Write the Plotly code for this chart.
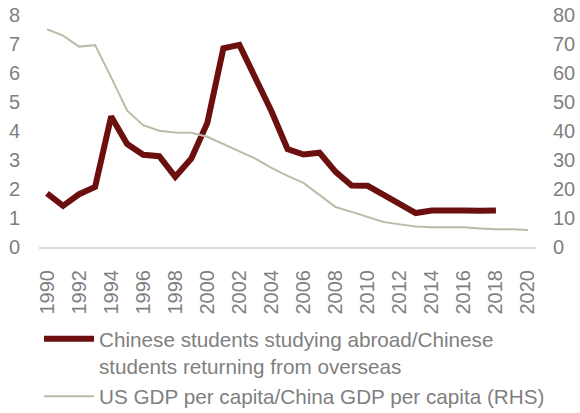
import plotly.graph_objects as go

years = list(range(1990, 2021))
years_students = list(range(1990, 2019))

# Chinese students studying abroad / returning from overseas (LHS)
students_ratio = [1.85, 1.42, 1.82, 2.07, 4.50, 3.55, 3.18, 3.13, 2.42, 3.05,
                  4.28, 6.85, 6.97, 5.82, 4.68, 3.38, 3.19, 3.25, 2.59, 2.12,
                  2.11, 1.80, 1.46, 1.17, 1.26, 1.28, 1.26, 1.25, 1.26]

# US GDP per capita / China GDP per capita (RHS)
gdp_ratio = [75.1, 72.9, 69.1, 69.6, 58.5, 47.0, 42.0, 40.1, 39.5, 39.4,
             38.0, 35.5, 33.2, 30.5, 27.3, 24.5, 22.1, 17.9, 13.8, 12.1,
             10.4, 8.6, 7.8, 7.1, 6.8, 6.7, 6.8, 6.4, 6.1, 6.1, 5.9]

x_ticks = list(range(1990, 2021, 2))
left_ticks = list(range(0, 9))
right_ticks = list(range(0, 81, 10))

FONT = "Liberation Sans, Arial, sans-serif"
TEXT_GREY = "#7f7f7f"
RED = "#6b0f0f"
GREY_LINE = "#bdbaa7"
TICK_SIZE = 20
LEGEND_SIZE = 20.7

fig = go.Figure()

fig.add_trace(go.Scatter(
    x=years_students, y=students_ratio, mode="lines",
    name="Chinese students studying abroad/Chinese<br>students returning from overseas",
    line=dict(color=RED, width=6, shape="linear"),
    yaxis="y", legend="legend", showlegend=True,
))
fig.add_trace(go.Scatter(
    x=years, y=gdp_ratio, mode="lines",
    name="US GDP per capita/China GDP per capita (RHS)",
    line=dict(color=GREY_LINE, width=2),
    yaxis="y2", legend="legend2", showlegend=True,
))

fig.update_layout(
    width=580, height=413,
    margin=dict(l=39, r=44, t=15, b=166, autoexpand=False),
    showlegend=True,
    paper_bgcolor="white", plot_bgcolor="white",
    font=dict(family=FONT, color=TEXT_GREY, size=TICK_SIZE),
    xaxis=dict(
        range=[1989.5, 2020.5], tickvals=x_ticks, ticktext=[str(v) for v in x_ticks],
        tickangle=-90, showgrid=False, zeroline=False,
        showline=True, linecolor="#d9d9d9", linewidth=2,
        ticks="", ticklabelstandoff=13, automargin=False,
        tickfont=dict(size=TICK_SIZE, color=TEXT_GREY),
    ),
    yaxis=dict(
        range=[0, 8], tickvals=left_ticks, showgrid=False, zeroline=False,
        showline=False, ticks="", ticklabelstandoff=18, automargin=False,
        tickfont=dict(size=TICK_SIZE, color=TEXT_GREY),
    ),
    yaxis2=dict(
        range=[0, 80], tickvals=right_ticks, overlaying="y", side="right",
        showgrid=False, zeroline=False, showline=False, ticks="",
        ticklabelstandoff=16, automargin=False,
        tickfont=dict(size=TICK_SIZE, color=TEXT_GREY),
    ),
    legend=dict(
        x=0.0, xanchor="left", y=-0.309, yanchor="top",
        font=dict(size=LEGEND_SIZE, color=TEXT_GREY), valign="top",
        itemwidth=50, bgcolor="rgba(0,0,0,0)",
    ),
    legend2=dict(
        x=0.0, xanchor="left", y=-0.557, yanchor="top",
        font=dict(size=LEGEND_SIZE, color=TEXT_GREY), valign="top",
        itemwidth=50, bgcolor="rgba(0,0,0,0)",
    ),
)

fig.write_html("out.html")
